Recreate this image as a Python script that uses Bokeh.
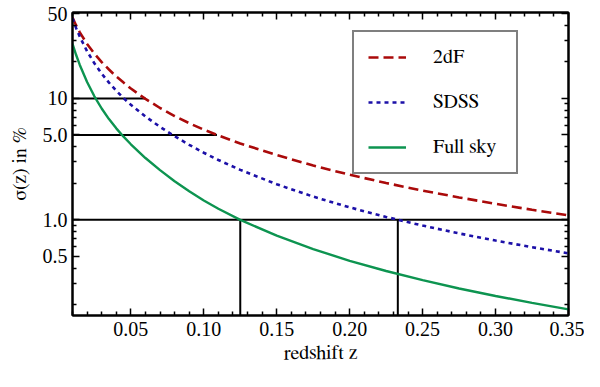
from bokeh.plotting import figure
from bokeh.models import Range1d, FixedTicker, LinearAxis, LogAxis, Legend, LegendItem
from bokeh.embed import file_html
from bokeh.resources import INLINE

# ---- data ----
z = [0.01, 0.0125, 0.015, 0.02, 0.025, 0.03, 0.035, 0.04, 0.045, 0.05,
     0.06, 0.07, 0.08, 0.09, 0.10, 0.11, 0.125,
     0.15, 0.175, 0.20, 0.225, 0.25, 0.275, 0.30, 0.325, 0.35]
sigma_2df = [46.4, 39.9, 35.0, 28.1, 23.4, 19.9, 17.3, 15.15, 13.5, 12.07,
             9.91, 8.34, 7.16, 6.25, 5.53, 4.95, 4.26,
             3.42, 2.80, 2.35, 2.01, 1.74, 1.53, 1.355, 1.21, 1.09]
sigma_sdss = [45.8, 37.9, 32.2, 24.45, 19.47, 16.02, 13.48, 11.56, 10.06, 8.87,
              7.1, 5.83, 4.88, 4.15, 3.57, 3.11, 2.58,
              1.963, 1.553, 1.266, 1.056, 0.897, 0.773, 0.675, 0.595, 0.53]
sigma_full = [28.15, 22.77, 18.87, 13.67, 10.41, 8.26, 6.76, 5.67, 4.84, 4.19,
              3.23, 2.565, 2.08, 1.72, 1.445, 1.235, 1.0,
              0.74, 0.574, 0.46, 0.379, 0.319, 0.272, 0.236, 0.207, 0.183]

series_names = ["2dF", "SDSS", "Full sky"]

# reference levels: horizontal lines at these sigma values up to the given z
ref_levels = [10.0, 5.0, 1.0]
ref_level_ends = [0.06, 0.109, 0.35]
# vertical lines at these z (from the bottom up to sigma = 1)
ref_z = [0.125, 0.233]
ref_z_top = [1.0, 1.0]

x_ticks = [0.05, 0.10, 0.15, 0.20, 0.25, 0.30, 0.35]
x_tick_labels = ["0.05", "0.10", "0.15", "0.20", "0.25", "0.30", "0.35"]
x_minor = [0.01, 0.02, 0.03, 0.04, 0.06, 0.07, 0.08, 0.09, 0.11, 0.12, 0.13, 0.14,
           0.16, 0.17, 0.18, 0.19, 0.21, 0.22, 0.23, 0.24, 0.26, 0.27, 0.28, 0.29,
           0.31, 0.32, 0.33, 0.34]
y_ticks = [0.5, 1.0, 5.0, 10.0, 50.0]
y_tick_labels = ["0.5", "1.0", "5.0", "10", "50"]
y_minor = [0.2, 0.3, 0.4, 0.6, 0.7, 0.8, 0.9, 2, 3, 4, 6, 7, 8, 9, 20, 30, 40]

x_start, x_end = 0.01, 0.35
y_start, y_end = 0.163, 51.0

TICK_FONT = "Times"
LABEL_FONT = "FreeSerif"
HIDDEN_FONT = "Liberation Mono"
FS = "20px"

p = figure(width=584, height=371, x_range=Range1d(x_start, x_end),
           y_range=Range1d(y_start, y_end), y_axis_type="log",
           output_backend="svg", toolbar_location=None,
           min_border_left=72, min_border_right=16, min_border_top=12,
           min_border_bottom=56)
p.grid.visible = False
p.outline_line_color = "black"
p.outline_line_width = 2
p.background_fill_color = "white"
p.border_fill_color = "white"

xticker = FixedTicker(ticks=x_ticks, minor_ticks=x_minor)
yticker = FixedTicker(ticks=y_ticks, minor_ticks=y_minor)

def style_axis(ax, tick_font, label_font):
    ax.axis_line_color = "black"
    ax.axis_line_width = 2
    ax.major_tick_in = 7
    ax.major_tick_out = 0
    ax.minor_tick_in = 4
    ax.minor_tick_out = 0
    ax.major_tick_line_width = 1.5
    ax.minor_tick_line_width = 1.5
    ax.major_tick_line_color = "black"
    ax.minor_tick_line_color = "black"
    ax.major_label_text_font = tick_font
    ax.major_label_text_color = "black"
    ax.major_label_text_font_size = FS
    ax.axis_label_text_font = label_font
    ax.axis_label_text_font_style = "normal"
    ax.axis_label_text_font_size = FS
    ax.axis_label_text_color = "black"

xa = p.xaxis[0]
xa.ticker = xticker
xa.major_label_overrides = {t: s for t, s in zip(x_ticks, x_tick_labels)}
xa.axis_label = "redshift z"
style_axis(xa, TICK_FONT, LABEL_FONT)
xa.major_label_standoff = 6
xa.axis_label_standoff = 4

ya = p.yaxis[0]
ya.ticker = yticker
ya.major_label_overrides = {t: s for t, s in zip(y_ticks, y_tick_labels)}
ya.axis_label = "σ(z) in %"
style_axis(ya, TICK_FONT, LABEL_FONT)
ya.major_label_standoff = 5
ya.axis_label_standoff = 10

# mirrored tick marks on top and right, without labels
top = LinearAxis(ticker=xticker)
style_axis(top, HIDDEN_FONT, HIDDEN_FONT)
top.major_label_overrides = {t: "" for t in x_ticks}
top.major_label_text_font_size = "1px"
top.major_label_standoff = 0
p.add_layout(top, "above")
right = LogAxis(ticker=yticker)
style_axis(right, HIDDEN_FONT, HIDDEN_FONT)
right.major_label_overrides = {t: "" for t in y_ticks}
right.major_label_text_font_size = "1px"
right.major_label_standoff = 0
p.add_layout(right, "right")

# reference lines
p.segment(x0=[x_start] * len(ref_levels), y0=ref_levels, x1=ref_level_ends,
          y1=ref_levels, line_color="black", line_width=2)
p.segment(x0=ref_z, y0=[0.1] * len(ref_z), x1=ref_z, y1=ref_z_top,
          line_color="black", line_width=2)

r1 = p.line(z, sigma_2df, line_color="#aa0a0a", line_width=2.6, line_dash="10 5")
r2 = p.line(z, sigma_sdss, line_color="#1c10a8", line_width=2.6, line_dash="4 4")
r3 = p.line(z, sigma_full, line_color="#0d9450", line_width=2.4)

legend = Legend(items=[LegendItem(label=series_names[0], renderers=[r1]),
                       LegendItem(label=series_names[1], renderers=[r2]),
                       LegendItem(label=series_names[2], renderers=[r3])],
                location=(280, 141))
legend.margin = 0
legend.padding = 14
legend.spacing = 23
legend.glyph_width = 38
legend.glyph_height = 20
legend.label_height = 20
legend.label_width = 69
legend.label_standoff = 27
legend.label_text_font = LABEL_FONT
legend.label_text_font_size = FS
legend.label_text_color = "black"
legend.border_line_color = "black"
legend.border_line_width = 2
legend.background_fill_color = "white"
legend.background_fill_alpha = 1.0
p.add_layout(legend)

open("out.html", "w").write(file_html(p, INLINE))
